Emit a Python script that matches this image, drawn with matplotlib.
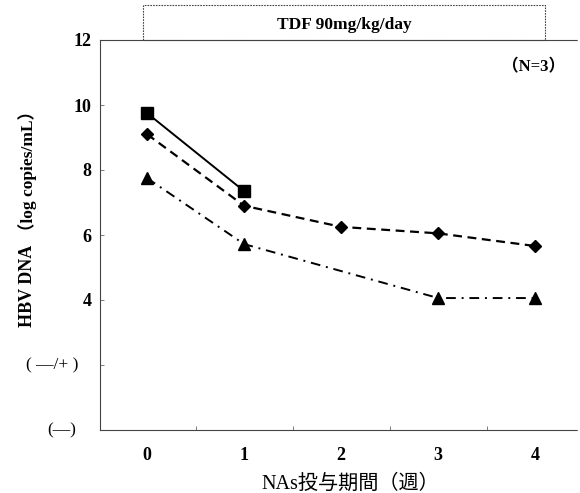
import matplotlib
matplotlib.use("Agg")
import matplotlib.pyplot as plt
from matplotlib.patches import Rectangle
from matplotlib.ticker import FixedLocator

# データ
weeks_sq = [0, 1]
dna_sq = [9.75, 7.35]
weeks_di = [0, 1, 2, 3, 4]
dna_di = [9.1, 6.9, 6.25, 6.05, 5.66]
weeks_tr = [0, 1, 3, 4]
dna_tr = [7.75, 5.72, 4.06, 4.06]

yticks = [0, 2, 4, 6, 8, 10, 12]
ytick_labels = ["", "", "4", "6", "8", "10", "12"]
# 陰性・弱陽性のラベル（数値ラベルとは位置が異なる）
neg_labels = ["(—)", "( —/+ )"]
neg_values = [0, 2]
xticks = [0, 1, 2, 3, 4]

fam = ["Liberation Serif", "Noto Sans CJK JP", "DejaVu Sans"]
plt.rcParams["font.family"] = fam

fig = plt.figure(figsize=(5.8, 4.93), dpi=100)
ax = fig.add_axes([100 / 580, 63 / 493, 477 / 580, 390 / 493])

ax.plot(weeks_sq, dna_sq, color="black", lw=1.4, ls="-", marker="s", ms=8)
ax.plot(weeks_di, dna_di, color="black", lw=1.6, ls=(0, (4, 2.5)), marker="D", ms=6)
ax.plot(weeks_tr, dna_tr, color="black", lw=1.4, ls=(0, (5, 3, 1, 3)), marker="^", ms=8)

ax.set_xlim(-0.485, 4.43)
ax.set_ylim(0, 12)

ax.set_yticks(yticks)
ax.set_yticklabels(ytick_labels, fontsize=13, fontweight="bold")
ax.set_xticks(xticks)
ax.set_xticklabels([str(x) for x in xticks], fontsize=13, fontweight="bold")
ax.xaxis.set_minor_locator(FixedLocator([0.5, 1.5, 2.5, 3.5]))
ax.tick_params(axis="y", direction="in", length=3, width=0.6, color="#666", pad=6)
ax.tick_params(axis="x", which="major", length=0, pad=12)
ax.tick_params(axis="x", which="minor", direction="in", length=3, width=0.6, color="#666")

for lab, v, xc in zip(neg_labels, neg_values, [62, 52]):
    ax.text((xc - 100) / 477 * 4.915 - 0.485, v, lab, fontsize=12.5,
            ha="center", va="center", clip_on=False)

for s in ["left", "top", "bottom"]:
    ax.spines[s].set_linewidth(0.8)
    ax.spines[s].set_color("#444")
    ax.spines[s].set_linestyle((0, (1.5, 1)))
ax.spines["right"].set_visible(False)

# 縦軸ラベル
fig.text(28 / 580, 1 - 245 / 493, "HBV DNA", rotation=90, fontsize=13,
         fontweight="bold", ha="center", va="top")
fig.text(28 / 580, 1 - 240 / 493, "（log copies/mL）", rotation=90, fontsize=12.5,
         fontweight="bold", ha="center", va="bottom")

fig.text(350 / 580, 1 - 484 / 493, "NAs投与期間（週）", fontsize=14.5,
         ha="center", va="center")

ax.text((534 - 100) / 477, (430 - 67) / 390, "（N=3）", transform=ax.transAxes,
        fontsize=12, fontweight="bold", ha="center", va="center")

# 上部のタイトルボックス
box = Rectangle((143 / 580, 453 / 493), (545 - 143) / 580, 35 / 493,
                transform=fig.transFigure, fill=False, lw=0.8,
                edgecolor="#444", ls=(0, (1.5, 1)), clip_on=False)
fig.patches.append(box)
fig.text(344 / 580, 468 / 493, "TDF 90mg/kg/day", fontsize=12.5,
         fontweight="bold", ha="center", va="center")

fig.savefig("out.png", dpi=100)
